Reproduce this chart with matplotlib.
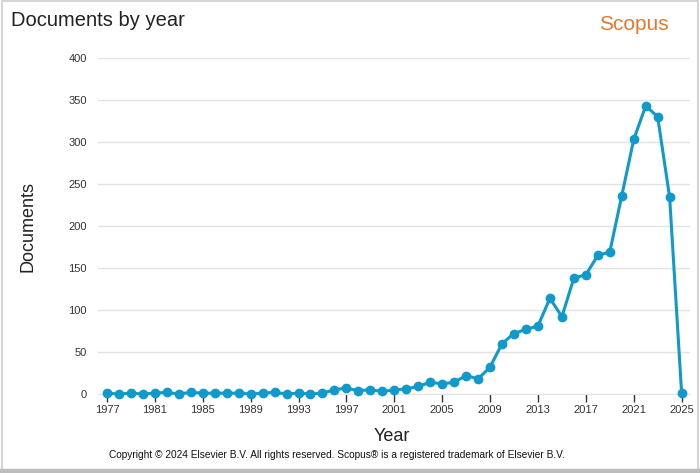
import matplotlib.pyplot as plt
from matplotlib.patches import Rectangle

years = list(range(1977, 2026))
documents = [1, 0, 1, 0, 1, 2, 0, 2, 1, 1, 1, 1, 0, 1, 2, 0, 1,
             0, 1, 5, 7, 4, 5, 3, 5, 6, 9, 14, 12, 14, 22, 18, 32,
             60, 72, 77, 81, 114, 92, 138, 142, 165, 169, 236, 303, 343, 330, 234, 1]
tick_years = list(range(1977, 2026, 4))
y_ticks = [0, 50, 100, 150, 200, 250, 300, 350, 400]

plt.rcParams['font.family'] = ['Liberation Sans', 'DejaVu Sans']

fig = plt.figure(figsize=(7, 4.73), dpi=100)
W, H = 700, 473
ax = fig.add_axes([98 / W, 1 - 394 / H, (690 - 98) / W, (394 - 58) / H])

ax.plot(years, documents, color='#0f9acb', lw=2.2, marker='o', ms=6, zorder=3, clip_on=False)
ax.set_xlim(1976.25, 2025.7)
ax.set_ylim(0, 400)
ax.set_yticks(y_ticks)
ax.set_xticks(tick_years)
ax.grid(axis='y', color='#e3e3e3', lw=1)
ax.set_axisbelow(True)
for s in ['top', 'right', 'left']:
    ax.spines[s].set_visible(False)
ax.spines['bottom'].set_color('#e3e3e3')
ax.tick_params(axis='y', length=0, labelsize=8, labelcolor='#333333', pad=8)
ax.tick_params(axis='x', length=6, width=1, color='#333333', labelsize=8, labelcolor='#333333', pad=2)

fig.text(28 / W, 1 - 226 / H, 'Documents', rotation=90, ha='center', va='center', fontsize=13, color='#222222')
fig.text(392 / W, 1 - 436 / H, 'Year', ha='center', va='center', fontsize=13, color='#222222')
fig.text(11 / W, 1 - 20 / H, 'Documents by year', ha='left', va='center', fontsize=14.5, color='#222222')
fig.text(634 / W, 1 - 24 / H, 'Scopus', ha='center', va='center', fontsize=15, color='#e5782f')
fig.text(337 / W, 1 - 455 / H, 'Copyright \u00a9 2024 Elsevier B.V. All rights reserved. Scopus\u00ae is a registered trademark of Elsevier B.V.',
         ha='center', va='center', fontsize=7.3, color='#111111')

# frame around the widget
fig.patches.append(Rectangle((1.5 / W, 3 / H), (W - 4) / W, (H - 4) / H, transform=fig.transFigure,
                             fill=False, ec='#d5d5d5', lw=1.5))
fig.patches.append(Rectangle((0, 0), 1, 4 / H, transform=fig.transFigure, color='#bdbdbd'))

fig.savefig('out.png', dpi=100)
